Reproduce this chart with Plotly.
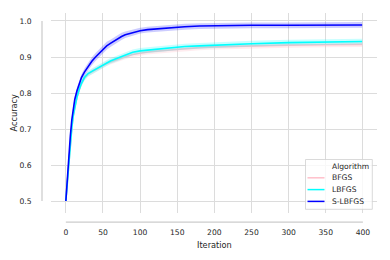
import plotly.graph_objects as go

# ---- data ----
iterations = [0, 2, 4, 6, 8, 10, 12, 15, 18, 21, 25, 30, 35, 40, 45, 50, 55, 60, 65, 70,
              75, 80, 90, 100, 110, 120, 140, 160, 180, 200, 250, 300, 350, 399]

bfgs = [0.500, 0.553, 0.611, 0.661, 0.703, 0.736, 0.762, 0.788, 0.809, 0.826, 0.842,
        0.853, 0.859, 0.865, 0.871, 0.877, 0.882, 0.886, 0.890, 0.894, 0.898, 0.901,
        0.907, 0.911, 0.914, 0.916, 0.920, 0.923, 0.926, 0.928, 0.931, 0.933, 0.934, 0.935]
lbfgs = [0.500, 0.552, 0.610, 0.660, 0.703, 0.737, 0.763, 0.789, 0.810, 0.827, 0.843,
         0.854, 0.860, 0.866, 0.873, 0.879, 0.884, 0.889, 0.893, 0.897, 0.901, 0.905,
         0.913, 0.917, 0.919, 0.922, 0.926, 0.929, 0.931, 0.933, 0.937, 0.940, 0.942, 0.943]
slbfgs = [0.500, 0.565, 0.630, 0.680, 0.725, 0.757, 0.782, 0.806, 0.826, 0.843, 0.858,
          0.874, 0.888, 0.900, 0.911, 0.922, 0.931, 0.938, 0.945, 0.951, 0.957, 0.962,
          0.968, 0.973, 0.976, 0.978, 0.982, 0.984, 0.986, 0.987, 0.988, 0.988, 0.989, 0.989]

bfgs_ci = [0.002, 0.006, 0.007, 0.007, 0.007, 0.007, 0.007, 0.007, 0.007, 0.007, 0.007,
           0.007, 0.007, 0.007, 0.007, 0.007, 0.007, 0.007, 0.007, 0.007, 0.007, 0.007,
           0.007, 0.007, 0.007, 0.007, 0.007, 0.007, 0.007, 0.007, 0.007, 0.007, 0.007, 0.007]
lbfgs_ci = [0.002, 0.007, 0.008, 0.008, 0.008, 0.008, 0.008, 0.008, 0.008, 0.008, 0.008,
            0.008, 0.008, 0.008, 0.008, 0.008, 0.008, 0.008, 0.008, 0.008, 0.008, 0.008,
            0.008, 0.008, 0.008, 0.008, 0.008, 0.008, 0.008, 0.008, 0.008, 0.008, 0.008, 0.008]
slbfgs_ci = [0.002, 0.008, 0.009, 0.009, 0.009, 0.009, 0.009, 0.009, 0.009, 0.009, 0.010,
             0.010, 0.011, 0.011, 0.011, 0.011, 0.011, 0.010, 0.010, 0.010, 0.010, 0.009,
             0.009, 0.008, 0.008, 0.008, 0.008, 0.008, 0.008, 0.008, 0.008, 0.008, 0.008, 0.008]

series_names = ["BFGS", "LBFGS", "S-LBFGS"]
series_values = [bfgs, lbfgs, slbfgs]
series_ci = [bfgs_ci, lbfgs_ci, slbfgs_ci]
series_colors = ["#ffc0cb", "#00ffff", "#0000ff"]
series_fills = ["rgba(255,192,203,0.3)", "rgba(0,255,255,0.22)", "rgba(0,0,255,0.2)"]
legend_title = "Algorithm"

x_ticks = [0, 50, 100, 150, 200, 250, 300, 350, 400]
y_ticks = [0.5, 0.6, 0.7, 0.8, 0.9, 1.0]

# ---- layout geometry (page pixels; the page body has an 8px margin) ----
OFF = 8
W, H = 390, 260
L, R, T, B = 51, 13, 13, 47
PW, PH = W - L - R, H - T - B


def px_x(p):
    return (p - L) / PW


def px_y(p):
    return (H - B - p) / PH


FONT = "DejaVu Sans"
TXT = "#262626"
GRID = "#dcdcdc"

fig = go.Figure()
for name, vals, ci, col, fc in zip(series_names, series_values, series_ci, series_colors, series_fills):
    upper = [v + c for v, c in zip(vals, ci)]
    lower = [v - c for v, c in zip(vals, ci)]
    fig.add_trace(go.Scatter(x=iterations, y=upper, mode="lines", line=dict(width=0, color=col),
                             showlegend=False, hoverinfo="skip"))
    fig.add_trace(go.Scatter(x=iterations, y=lower, mode="lines", line=dict(width=0, color=col),
                             fill="tonexty", fillcolor=fc, showlegend=False, hoverinfo="skip"))
    fig.add_trace(go.Scatter(x=iterations, y=vals, mode="lines", name=name,
                             line=dict(width=1.6, color=col), showlegend=False))

shapes = []
annotations = []
# offset spines
shapes.append(dict(type="line", xref="paper", yref="y", x0=px_x(42), x1=px_x(42), y0=0.5, y1=1.0,
                   line=dict(color="#cccccc", width=1.25)))
shapes.append(dict(type="line", xref="x", yref="paper", x0=0, x1=400, y0=px_y(222), y1=px_y(222),
                   line=dict(color="#cccccc", width=1.25)))

# legend box (manual)
shapes.append(dict(type="rect", xref="paper", yref="paper",
                   x0=px_x(305.5), x1=px_x(372.3), y0=px_y(209.3), y1=px_y(159.5),
                   line=dict(color="#d0d0d0", width=0.8), fillcolor="rgba(255,255,255,0.8)"))
rows_y = [166.0, 177.8, 189.6, 201.4]
labels = [legend_title] + series_names
for i, lab in enumerate(labels):
    yy = px_y(rows_y[i])
    if i > 0:
        shapes.append(dict(type="line", xref="paper", yref="paper", x0=px_x(307.5), x1=px_x(324.5),
                           y0=yy, y1=yy, line=dict(color=series_colors[i - 1], width=1.5)))
    annotations.append(dict(xref="paper", yref="paper", x=px_x(330.0), y=yy, text=lab,
                            showarrow=False, xanchor="left", yanchor="middle",
                            font=dict(family=FONT, size=7.6, color=TXT)))

# axis titles
annotations.append(dict(xref="x", yref="paper", x=200, y=px_y(245), text="Iteration", showarrow=False,
                        xanchor="center", yanchor="middle", font=dict(family=FONT, size=8.2, color=TXT)))
annotations.append(dict(xref="paper", yref="paper", x=px_x(13.5), y=0.5, text="Accuracy", showarrow=False,
                        textangle=-90, xanchor="center", yanchor="middle",
                        font=dict(family=FONT, size=8.2, color=TXT)))

fig.update_layout(
    width=W - OFF, height=H - OFF,
    margin=dict(l=L - OFF, r=R, t=T - OFF, b=B, pad=0),
    paper_bgcolor="white", plot_bgcolor="white",
    showlegend=False,
    shapes=shapes, annotations=annotations,
    font=dict(family=FONT, size=7.6, color=TXT),
    xaxis=dict(range=[-20, 419], tickvals=x_ticks, ticktext=[str(v) for v in x_ticks],
               showgrid=True, gridcolor=GRID, gridwidth=1, zeroline=False, showline=False,
               ticks="outside", ticklen=12, tickcolor="rgba(0,0,0,0)",
               tickfont=dict(family=FONT, size=7.6, color=TXT)),
    yaxis=dict(range=[0.4667, 1.0222], tickvals=y_ticks, ticktext=[f"{v:.1f}" for v in y_ticks],
               showgrid=True, gridcolor=GRID, gridwidth=1, zeroline=False, showline=False,
               ticks="outside", ticklen=17, tickcolor="rgba(0,0,0,0)",
               tickfont=dict(family=FONT, size=7.6, color=TXT)),
)

fig.write_html("out.html")
